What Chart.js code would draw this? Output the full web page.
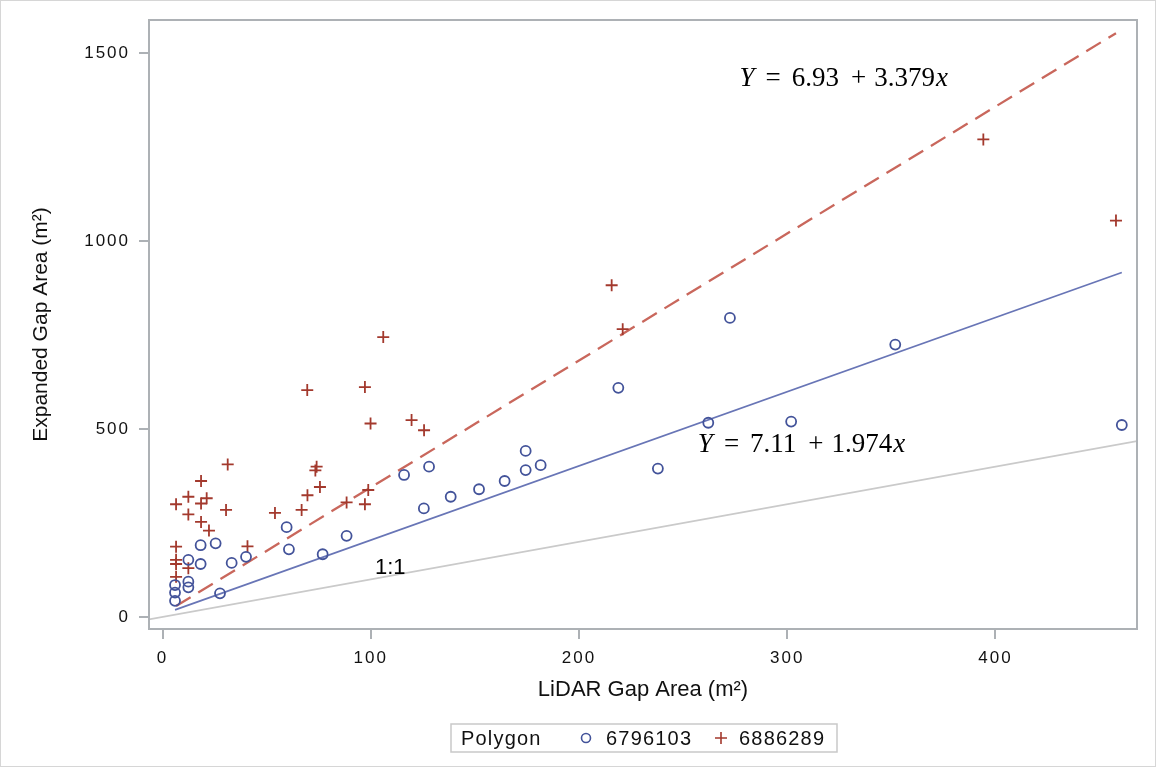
<!DOCTYPE html>
<html>
<head>
<meta charset="utf-8">
<title>Expanded vs LiDAR gap area</title>
<script src="https://cdn.jsdelivr.net/npm/chart.js@4.4.1/dist/chart.umd.min.js"></script>
<style>
  html, body { margin: 0; padding: 0; background: #fff; }
  #wrap { width: 1157px; height: 767px; }
</style>
</head>
<body>
<div id="wrap"><canvas id="chart" width="1157" height="767"></canvas></div>
<script>
// tick labels
const xTickValues = [0, 100, 200, 300, 400];
const yTickValues = [0, 500, 1000, 1500];

// polygon 6796103 (circles)
const poly6796103X = [6.0, 6.0, 6.0, 12.4, 12.4, 12.4, 18.3, 18.3, 25.5, 27.6, 33.2, 40.1, 59.6, 60.7, 76.9, 88.4,
  116.0, 128.0, 125.5, 138.4, 152.0, 164.3, 174.4, 174.4, 181.6, 218.9, 237.9, 262.1, 272.5, 301.9, 351.9, 460.7];
const poly6796103Y = [85, 65, 43, 94, 79, 152, 141, 191, 196, 63, 144, 160, 239, 180, 167, 216,
  378, 400, 289, 320, 340, 362, 391, 442, 404, 610, 395, 517, 796, 520, 725, 511];

// polygon 6886289 (crosses)
const poly6886289X = [6.5, 6.5, 6.5, 6.5, 6.5, 12.4, 12.4, 12.4, 18.5, 18.5, 18.5, 21.2, 22.3, 30.5, 31.3, 40.8,
  54.0, 66.8, 69.6, 69.5, 74.0, 73.4, 75.6, 88.4, 97.2, 98.8, 97.2, 99.9, 106.0, 119.6, 125.6, 215.7, 221.0, 394.2, 457.9];
const poly6886289Y = [300, 187, 152, 141, 107, 320, 273, 130, 362, 302, 253, 316, 230, 285, 406, 188,
  277, 285, 324, 604, 400, 390, 346, 305, 300, 338, 612, 515, 745, 524, 497, 883, 766, 1271, 1055];

// fitted lines (end points) and the 1:1 reference
const fit6796103X = [6.0, 460.7];
const fit6796103Y = [19, 917];
const fit6886289X = [6.5, 457.9];
const fit6886289Y = [29, 1554];
const oneToOneX = [-6.5, 468];
const oneToOneY = [-6.5, 468];

// equation texts
const eqIntercepts = ["6.93", "7.11"];
const eqSlopes = ["3.379", "1.974"];

const blue = "#43539a";
const red = "#a3392d";
const sans = '"Liberation Sans", Arial, sans-serif';
const serif = '"Liberation Serif", "Times New Roman", serif';

function toPoints(xs, ys) {
  return xs.map((x, i) => ({ x: x, y: ys[i] }));
}

function drawEquation(ctx, px, py, intercept, slope) {
  const size = 27;
  const parts = [["Y", true], ["=", false], [intercept, false], ["+", false], [slope, false], ["x", true]];
  const gaps = [11, 11, 12, 8, 1];
  let x = px;
  ctx.fillStyle = "#000";
  ctx.textBaseline = "alphabetic";
  ctx.textAlign = "left";
  parts.forEach((p, i) => {
    ctx.font = (p[1] ? "italic " : "") + size + "px " + serif;
    ctx.fillText(p[0], x, py);
    x += ctx.measureText(p[0]).width + (gaps[i] || 0);
  });
}

const sasLook = {
  id: "sasLook",
  beforeUpdate(chart) {
    chart.ctx.letterSpacing = "2px";
  },
  beforeDraw(chart) {
    chart.ctx.letterSpacing = "2px";
  },
  afterDraw(chart) {
    const ctx = chart.ctx;
    const a = chart.chartArea;
    const xs = chart.scales.x;
    const ys = chart.scales.y;
    ctx.save();
    ctx.letterSpacing = "0px";

    // plot frame
    ctx.strokeStyle = "#adb1b5";
    ctx.lineWidth = 2;
    ctx.strokeRect(a.left, a.top, a.right - a.left, a.bottom - a.top);

    // outer border
    ctx.strokeStyle = "#d6d6d6";
    ctx.lineWidth = 1;
    ctx.strokeRect(0.5, 0.5, chart.width - 2, chart.height - 1);

    // axis titles
    ctx.fillStyle = "#111";
    ctx.textAlign = "center";
    ctx.textBaseline = "alphabetic";
    ctx.font = "22px " + sans;
    ctx.fillText("LiDAR Gap Area (m²)", (a.left + a.right) / 2, 696);
    ctx.save();
    ctx.translate(47, (a.top + a.bottom) / 2);
    ctx.rotate(-Math.PI / 2);
    ctx.font = "21px " + sans;
    ctx.fillText("Expanded Gap Area (m²)", 0, 0);
    ctx.restore();

    // 1:1 label
    ctx.textAlign = "left";
    ctx.font = "22px " + sans;
    ctx.fillStyle = "#000";
    ctx.fillText("1:1", xs.getPixelForValue(102), ys.getPixelForValue(113.6));

    // fit equations
    drawEquation(ctx, xs.getPixelForValue(277.1), ys.getPixelForValue(1414), eqIntercepts[0], eqSlopes[0]);
    drawEquation(ctx, xs.getPixelForValue(257.1), ys.getPixelForValue(440), eqIntercepts[1], eqSlopes[1]);

    // legend
    ctx.strokeStyle = "#c9c9c9";
    ctx.lineWidth = 1.5;
    ctx.strokeRect(451, 724, 386, 28);
    ctx.letterSpacing = "1.2px";
    ctx.font = "20px " + sans;
    ctx.fillStyle = "#111";
    ctx.textAlign = "left";
    ctx.fillText("Polygon", 461, 745);
    ctx.fillText("6796103", 606, 745);
    ctx.fillText("6886289", 739, 745);
    ctx.strokeStyle = blue;
    ctx.lineWidth = 1.6;
    ctx.beginPath();
    ctx.arc(586, 738, 4.5, 0, Math.PI * 2);
    ctx.stroke();
    ctx.strokeStyle = red;
    ctx.beginPath();
    ctx.moveTo(715, 738); ctx.lineTo(727, 738);
    ctx.moveTo(721, 732); ctx.lineTo(721, 744);
    ctx.stroke();

    ctx.restore();
  }
};

const axisGrid = { display: true, drawOnChartArea: false, drawTicks: true, tickLength: 10, color: "#adb1b5", lineWidth: 2 };

new Chart(document.getElementById("chart"), {
  type: "scatter",
  data: {
    datasets: [
      { label: "6796103", data: toPoints(poly6796103X, poly6796103Y), pointStyle: "circle", pointRadius: 5,
        borderColor: blue, backgroundColor: "rgba(0,0,0,0)", borderWidth: 1.8 },
      { label: "6886289", data: toPoints(poly6886289X, poly6886289Y), pointStyle: "cross", pointRadius: 6,
        borderColor: red, backgroundColor: red, borderWidth: 1.8 },
      { label: "fit 6796103", data: toPoints(fit6796103X, fit6796103Y), showLine: true, pointRadius: 0,
        borderColor: "#6875b6", borderWidth: 1.7 },
      { label: "fit 6886289", data: toPoints(fit6886289X, fit6886289Y), showLine: true, pointRadius: 0,
        borderColor: "#c9675c", borderWidth: 2.3, borderDash: [17, 9] },
      { label: "1:1", data: toPoints(oneToOneX, oneToOneY), showLine: true, pointRadius: 0,
        borderColor: "#cacaca", borderWidth: 1.7 }
    ]
  },
  options: {
    responsive: false,
    animation: false,
    layout: { padding: { top: 20, right: 20, bottom: 0, left: 0 } },
    plugins: { legend: { display: false }, tooltip: { enabled: false } },
    scales: {
      x: {
        type: "linear",
        min: -6.5,
        max: 468,
        afterFit(s) { s.height = 138; },
        afterBuildTicks(s) { s.ticks = xTickValues.map(v => ({ value: v })); },
        grid: axisGrid,
        border: { display: false },
        ticks: { font: { family: sans, size: 17 }, color: "#111", padding: 9, maxRotation: 0, autoSkip: false,
          callback: v => String(v) }
      },
      y: {
        type: "linear",
        min: -32,
        max: 1589,
        afterFit(s) { s.width = 149; },
        afterBuildTicks(s) { s.ticks = yTickValues.map(v => ({ value: v })); },
        grid: axisGrid,
        border: { display: false },
        ticks: { font: { family: sans, size: 17 }, color: "#111", padding: 9, autoSkip: false,
          callback: v => String(v) }
      }
    }
  },
  plugins: [sasLook]
});
</script>
</body>
</html>
